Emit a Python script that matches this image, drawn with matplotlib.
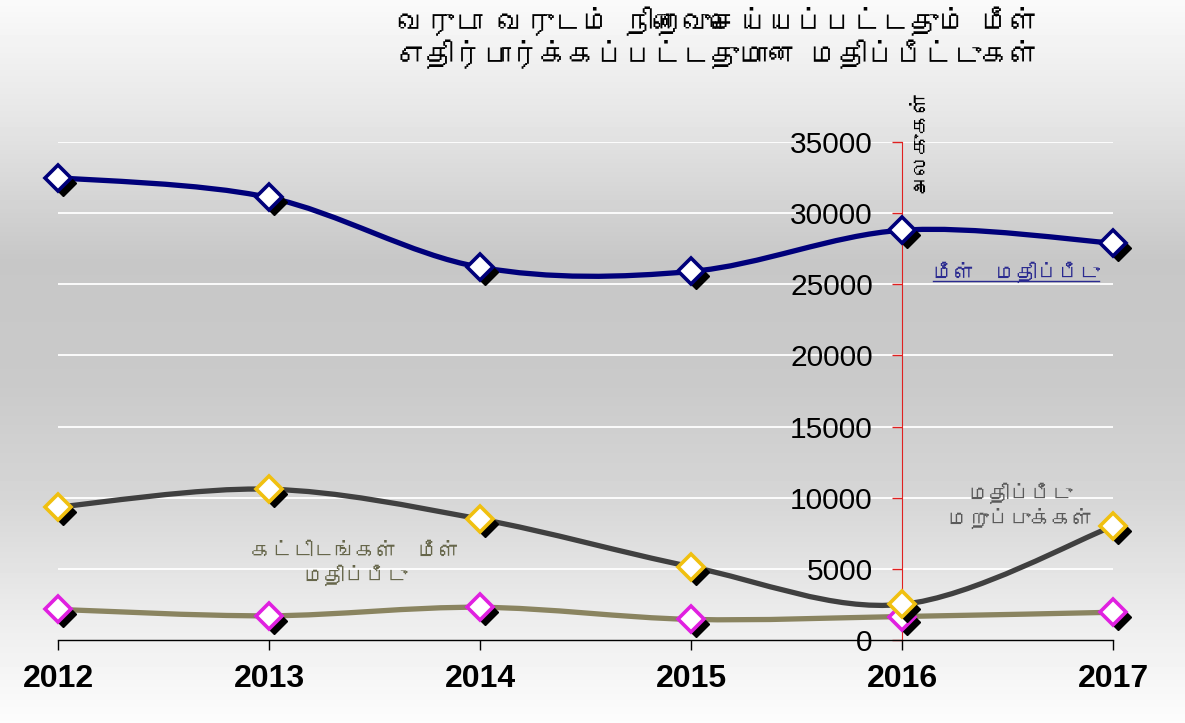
import numpy as np
import matplotlib
matplotlib.use("Agg")
import matplotlib.pyplot as plt
from matplotlib import font_manager
from matplotlib.ft2font import FT2Font
from matplotlib.path import Path
from matplotlib.patches import PathPatch
from matplotlib.lines import Line2D
import matplotlib.transforms as mtransforms

# ---- datos ----
years = [2012, 2013, 2014, 2015, 2016, 2017]
revaluation = [32500, 31100, 26200, 25900, 28800, 27900]      # மீள் மதிப்பீடு
objections = [9350, 10600, 8500, 5150, 2500, 8000]            # மதிப்பீடு மறுப்புக்கள்
buildings = [2150, 1700, 2300, 1450, 1650, 1950]              # கட்டிடங்கள் மீள் மதிப்பீடு
yticks = [0, 5000, 10000, 15000, 20000, 25000, 30000, 35000]

title = "வருடா வருடம் நிறைவுசெய்யப்பட்டதும் மீள்\nஎதிர்பார்க்கப்பட்டதுமான மதிப்பீட்டுகள்"
ylabel = "அலகுகள்"
lab_reval = "மீள்  மதிப்பீடு"
lab_obj = "மதிப்பீடு\nமறுப்புக்கள்"
lab_build = "கட்டிடங்கள்  மீள்\nமதிப்பீடு"


# buscar una fuente con glifos tamiles, si hay
def find_tamil():
    for f in font_manager.fontManager.ttflist:
        try:
            if FT2Font(f.fname).get_char_index(ord("வ")):
                return f.name
        except Exception:
            pass
    return None


tamil = find_tamil()
tfam = [tamil, "DejaVu Sans"] if tamil else ["DejaVu Sans"]
plt.rcParams["font.family"] = ["Liberation Sans", "DejaVu Sans"]


def smooth_path(xs, ys):
    # curva tipo "linea suavizada" de Excel (Catmull-Rom -> Bezier)
    p = np.column_stack([xs, ys]).astype(float)
    ext = np.vstack([p[0], p, p[-1]])
    verts = [p[0]]
    codes = [Path.MOVETO]
    for i in range(len(p) - 1):
        p0, p1, p2, p3 = ext[i], ext[i + 1], ext[i + 2], ext[i + 3]
        c1 = p1 + (p2 - p0) / 6.0
        c2 = p2 - (p3 - p1) / 6.0
        verts += [c1, c2, p2]
        codes += [Path.CURVE4] * 3
    return Path(verts, codes)


W, H = 1185, 723
fig = plt.figure(figsize=(W / 100, H / 100), dpi=100)

# fondo degradado
bg = fig.add_axes([0, 0, 1, 1], zorder=-10)
rows = np.arange(H)
stops_y = [0, 120, 260, 380, 500, 620, 723]
stops_v = [0.98, 0.90, 0.78, 0.79, 0.84, 0.93, 0.99]
col = np.interp(rows, stops_y, stops_v)
img = np.repeat(col[:, None], 4, axis=1)
bg.imshow(img, cmap="gray", vmin=0, vmax=1, aspect="auto", extent=[0, 1, 1, 0])
bg.set_axis_off()

ax = fig.add_axes([58 / W, 1 - 640 / H, (1113 - 58) / W, (640 - 142) / H])
ax.patch.set_alpha(0)
ax.set_xlim(2012, 2017)
ax.set_ylim(0, 35000)

for y in yticks[1:]:
    ax.axhline(y, color="white", lw=1.3, zorder=1)

shadow = ax.transData + mtransforms.ScaledTranslation(5 / 100, -5 / 100, fig.dpi_scale_trans)

series = [
    (buildings, "#8a8460", "#e020e0"),
    (objections, "#404040", "#f0c010"),
    (revaluation, "#00007a", "#00007a"),
]
z = 3
for vals, lc, mc in series:
    patch = PathPatch(smooth_path(years, vals), fill=False, ec=lc, lw=3.8,
                      capstyle="round", zorder=z)
    ax.add_patch(patch)
    ax.plot(years, vals, ls="none", marker="D", ms=13, mfc="black", mec="black",
            transform=shadow, clip_on=False, zorder=z + 0.1)
    ax.plot(years, vals, ls="none", marker="D", ms=13, mfc="white", mec=mc,
            mew=2.6, clip_on=False, zorder=z + 0.2)
    z += 1

# ejes
for s in ["top", "right"]:
    ax.spines[s].set_visible(False)
ax.spines["left"].set_position(("data", 2016))
ax.spines["left"].set_color("#e02020")
ax.spines["left"].set_zorder(2)
ax.spines["bottom"].set_color("black")
ax.spines["bottom"].set_linewidth(1)

ax.set_yticks(yticks)
ax.set_yticklabels([str(v) for v in yticks])
ax.tick_params(axis="y", direction="out", length=7, width=1, color="#e02020",
               labelcolor="black", labelsize=21.5, pad=14)
ax.set_xticks(years)
ax.set_xticklabels([str(y) for y in years], fontweight="bold")
ax.tick_params(axis="x", direction="out", length=7, width=1, color="black",
               labelsize=23, pad=10)

# textos
fig.text(0.606, 0.948, title, ha="center", va="center", fontsize=20.5,
         family=tfam, fontweight="bold", linespacing=1.15)
ax.text(2016.08, 35100, ylabel, rotation=90, ha="center", va="center",
        fontsize=15, family=tfam)
t_rev = ax.text(2016.54, 25860, lab_reval, ha="center", va="center",
                fontsize=15, color="#2a2a90", family=tfam)
ax.text(2016.56, 9420, lab_obj, ha="center", va="center", fontsize=15,
        color="#5a5a5a", family=tfam, linespacing=1.2)
ax.text(2013.41, 5340, lab_build, ha="center", va="center", fontsize=15,
        color="#66664a", family=tfam, linespacing=1.2)

# subrayado de la etiqueta azul
fig.canvas.draw()
bb = t_rev.get_window_extent().transformed(fig.transFigure.inverted())
fig.add_artist(Line2D([bb.x0, bb.x1], [bb.y0 + 0.002, bb.y0 + 0.002],
                      color="#2a2a90", lw=1))

fig.savefig("out.png", dpi=100)
